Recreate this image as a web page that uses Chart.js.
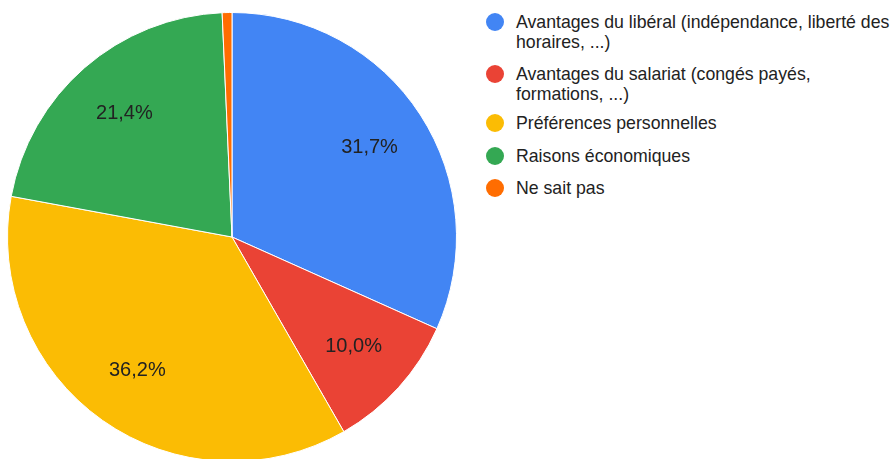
<!DOCTYPE html>
<html><head><meta charset="utf-8">
<script src="https://cdn.jsdelivr.net/npm/chart.js@4/dist/chart.umd.min.js"></script>
<style>
html,body{margin:0;padding:0;background:#fff;overflow:hidden;width:892px;height:459px;}
#wrap{position:absolute;left:0;top:0;width:464px;height:474px;}
#legend{position:absolute;left:0;top:0;font-family:"Liberation Sans",Arial,sans-serif;font-size:17.7px;color:#222;}
.item{position:absolute;left:516px;white-space:nowrap;line-height:20px;}
.dot{position:absolute;left:486px;width:18px;height:18px;border-radius:50%;}
</style></head>
<body>
<div id="wrap"><canvas id="c" width="464" height="474"></canvas></div>
<div id="legend"></div>
<script>
const categories = [
  "Avantages du libéral (indépendance, liberté des\nhoraires, ...)",
  "Avantages du salariat (congés payés,\nformations, ...)",
  "Préférences personnelles",
  "Raisons économiques",
  "Ne sait pas"
];
const values = [31.7, 10.0, 36.2, 21.4, 0.7];
const valueLabels = ["31,7%", "10,0%", "36,2%", "21,4%", ""];
const colors = ["#4285F4", "#EA4335", "#FBBC04", "#34A853", "#FF6D01"];

// legend
const legendTops = [12, 64, 113, 146, 178];
const lg = document.getElementById('legend');
categories.forEach((c, i) => {
  const d = document.createElement('div');
  d.className = 'dot';
  d.style.top = (legendTops[i] + 1) + 'px';
  d.style.background = colors[i];
  lg.appendChild(d);
  const t = document.createElement('div');
  t.className = 'item';
  t.style.top = legendTops[i] + 'px';
  t.innerHTML = c.split('\n').join('<br>');
  lg.appendChild(t);
});

const labelPlugin = {
  id: 'sliceLabels',
  afterDatasetsDraw(chart) {
    const ctx = chart.ctx;
    const meta = chart.getDatasetMeta(0);
    ctx.save();
    ctx.font = '20px "Liberation Sans", Arial, sans-serif';
    ctx.fillStyle = '#222';
    ctx.textAlign = 'center';
    ctx.textBaseline = 'middle';
    meta.data.forEach((arc, i) => {
      if (!valueLabels[i]) return;
      const p = arc.getProps(['x','y','startAngle','endAngle','outerRadius'], true);
      const mid = (p.startAngle + p.endAngle) / 2;
      const r = p.outerRadius * 0.73;
      ctx.fillText(valueLabels[i], p.x + Math.cos(mid) * r, p.y + Math.sin(mid) * r);
    });
    ctx.restore();
  }
};

new Chart(document.getElementById('c'), {
  type: 'pie',
  data: {
    labels: categories,
    datasets: [{
      data: values,
      backgroundColor: colors,
      borderColor: '#ffffff',
      borderWidth: 1
    }]
  },
  options: {
    responsive: false,
    animation: false,
    layout: { padding: { left: 7, right: 7, top: 12, bottom: 12 } },
    plugins: { legend: { display: false }, tooltip: { enabled: false } }
  },
  plugins: [labelPlugin]
});
</script>
</body></html>
